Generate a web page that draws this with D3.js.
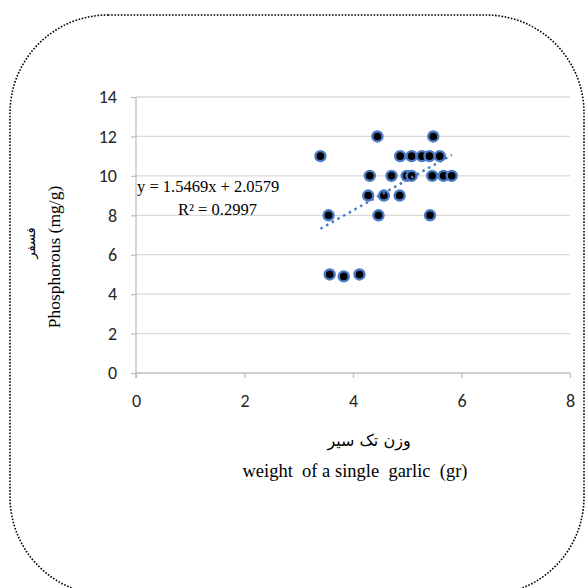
<!DOCTYPE html>
<html><head><meta charset="utf-8">
<script src="https://cdn.jsdelivr.net/npm/d3@7/dist/d3.min.js"></script>
<style>body{margin:0;background:#fff}svg{display:block}</style>
</head><body><svg id="c" width="586" height="588"></svg>
<script>
const weight = [3.40, 4.45, 5.48, 4.87, 5.08, 5.27, 5.41, 5.60, 4.31, 4.71, 4.99, 5.08, 5.46, 5.67, 5.82, 4.28, 4.57, 4.86, 3.55, 4.47, 5.42, 3.57, 3.83, 4.12];
const phosphorous = [11, 12, 12, 11, 11, 11, 11, 11, 10, 10, 10, 10, 10, 10, 10, 9, 9, 9, 8, 8, 8, 5, 4.9, 5];
const xTicks = [0, 2, 4, 6, 8];
const yTicks = [0, 2, 4, 6, 8, 10, 12, 14];
const slope = 1.5469, intercept = 2.0579;
const eqLabel = "y = 1.5469x + 2.0579";
const r2Label = "R² = 0.2997";
const xTitleFa = "وزن تک سیر";
const xTitleEn = "weight\u00a0 of a single\u00a0 garlic\u00a0 (gr)";
const yTitleFa = "فسفر";
const yTitleEn = "Phosphorous (mg/g)";

const svg = d3.select("#c");
const x = d3.scaleLinear().domain([0, 8]).range([136, 570]);
const y = d3.scaleLinear().domain([0, 14]).range([373, 97]);

// border
svg.append("rect").attr("x", 10).attr("y", 15).attr("width", 574).attr("height", 580)
  .attr("rx", 98).attr("ry", 98).attr("fill", "none").attr("stroke", "#000")
  .attr("stroke-width", 1.6).attr("stroke-dasharray", "1.6 1.6");

// gridlines
svg.append("g").selectAll("line").data(yTicks.filter(d => d > 0)).join("line")
  .attr("x1", x(0)).attr("x2", x(8)).attr("y1", d => y(d)).attr("y2", d => y(d))
  .attr("stroke", "#d9d9d9").attr("stroke-width", 1.3);

// axes
const yAxis = svg.append("g").attr("transform", `translate(${x(0)},0)`)
  .call(d3.axisLeft(y).tickValues(yTicks).tickSize(5).tickSizeOuter(0).tickPadding(14));
const xAxis = svg.append("g").attr("transform", `translate(0,${y(0)})`)
  .call(d3.axisBottom(x).tickValues(xTicks).tickSize(5).tickSizeOuter(0).tickPadding(16));
[xAxis, yAxis].forEach(a => {
  a.select(".domain").attr("stroke", "#bfbfbf").attr("stroke-width", 1.3);
  a.selectAll(".tick line").attr("stroke", "#bfbfbf").attr("stroke-width", 1.3);
  a.selectAll("text").attr("font-family", "Carlito, 'Open Sans', 'Liberation Sans', sans-serif")
    .attr("font-size", 18).attr("fill", "#262626");
});
xAxis.select(".domain").attr("d", `M${x(0)},5V0H${x(8)}`);
yAxis.select(".domain").attr("d", `M0,${y(14)}V${y(0)+5}`);

// points
svg.append("g").selectAll("circle").data(weight.map((w, i) => [w, phosphorous[i]])).join("circle")
  .attr("cx", d => x(d[0])).attr("cy", d => y(d[1])).attr("r", 5)
  .attr("fill", "#000").attr("stroke", "#4a7ac4").attr("stroke-width", 2.4);

// trendline
const xmin = d3.min(weight), xmax = d3.max(weight);
svg.append("line").attr("x1", x(xmin)).attr("y1", y(slope * xmin + intercept))
  .attr("x2", x(xmax)).attr("y2", y(slope * xmax + intercept))
  .attr("stroke", "#4a7ac4").attr("stroke-width", 2.5).attr("stroke-dasharray", "2.5 4");

// equation
const serif = "'Liberation Serif', 'Times New Roman', serif";
svg.append("text").attr("x", 137).attr("y", 192).attr("font-family", serif).attr("font-size", 16.5)
  .attr("fill", "#000").text(eqLabel);
svg.append("text").attr("x", 178).attr("y", 215).attr("font-family", serif).attr("font-size", 16.5)
  .attr("fill", "#000").text(r2Label);

// axis titles
svg.append("text").attr("x", 369).attr("y", 446).attr("text-anchor", "middle")
  .attr("font-family", "'DejaVu Sans', sans-serif").attr("font-size", 16)
  .attr("direction", "rtl").text(xTitleFa);
svg.append("text").attr("x", 355).attr("y", 477).attr("text-anchor", "middle")
  .attr("font-family", serif).attr("font-size", 18.5).text(xTitleEn);
svg.append("text").attr("transform", "translate(60,257) rotate(-90)").attr("text-anchor", "middle")
  .attr("font-family", serif).attr("font-size", 17.5).text(yTitleEn);
svg.append("text").attr("transform", "translate(35,243) rotate(-90)").attr("text-anchor", "middle")
  .attr("font-family", "'DejaVu Sans', sans-serif").attr("font-size", 13)
  .attr("direction", "rtl").text(yTitleFa);
</script></body></html>
